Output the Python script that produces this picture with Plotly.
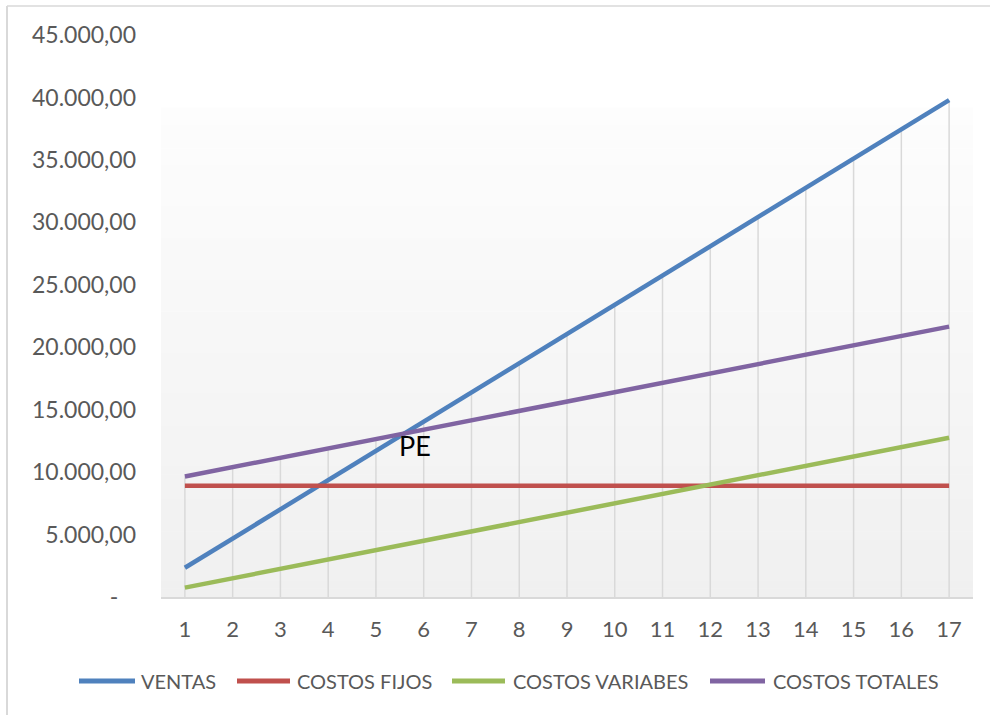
import plotly.graph_objects as go

# Units sold (category axis)
unidades = list(range(1, 18))
etiquetas_x = [str(u) for u in unidades]

# Series values
ventas = [2340, 4680, 7020, 9360, 11700, 14040, 16380, 18720, 21060,
          23400, 25740, 28080, 30420, 32760, 35100, 37440, 39780]
costos_fijos = [8900] * 17
costos_variables = [750, 1500, 2250, 3000, 3750, 4500, 5250, 6000, 6750,
                    7500, 8250, 9000, 9750, 10500, 11250, 12000, 12750]
costos_totales = [9650, 10400, 11150, 11900, 12650, 13400, 14150, 14900, 15650,
                  16400, 17150, 17900, 18650, 19400, 20150, 20900, 21650]

nombres = ["VENTAS", "COSTOS FIJOS", "COSTOS VARIABES", "COSTOS TOTALES"]
colores = ["#4f81bd", "#c0504d", "#9bbb59", "#8064a2"]
series = [ventas, costos_fijos, costos_variables, costos_totales]

# Y axis ticks
y_vals = [0, 5000, 10000, 15000, 20000, 25000, 30000, 35000, 40000, 45000]
y_text = ["-\u00a0\u00a0\u00a0", "5.000,00", "10.000,00", "15.000,00", "20.000,00",
          "25.000,00", "30.000,00", "35.000,00", "40.000,00", "45.000,00"]

W, H = 990, 715
ML, MR, MT, MB = 161, 17, 35, 118
PW, PH = W - ML - MR, H - MT - MB

FONT = "Lato, 'Open Sans', sans-serif"
TXT = "#595959"


def px_x(px):
    return (px - ML) / PW


def px_y(py):
    return (H - MB - py) / PH


fig = go.Figure()

# Drop lines from the axis up to the highest series at each category
dx, dy = [], []
for i, u in enumerate(unidades):
    top = max(s[i] for s in series)
    dx += [u, u, None]
    dy += [0, top, None]
fig.add_trace(go.Scatter(x=dx, y=dy, mode="lines", showlegend=False,
                         hoverinfo="skip",
                         line=dict(color="#d9d9d9", width=1.5)))

for nombre, color, valores in zip(nombres, colores, series):
    fig.add_trace(go.Scatter(x=unidades, y=valores, name=nombre, mode="lines",
                             showlegend=False,
                             line=dict(color=color, width=4.5)))

shapes = []

# Vertical gradient fill of the plot area
n_strips = 60
fill_top = px_y(108)
c_top, c_bot = 0xfd, 0xf0
for k in range(n_strips):
    y0 = fill_top * k / n_strips
    y1 = fill_top * (k + 1) / n_strips
    t = (k + 0.5) / n_strips
    g = round(c_bot + (c_top - c_bot) * t)
    col = f"rgb({g},{g},{g})"
    shapes.append(dict(type="rect", xref="paper", yref="paper",
                       x0=0, x1=1, y0=y0, y1=y1 + 0.001,
                       fillcolor=col, line=dict(width=0), layer="below"))

# Chart frame (top and left edges)
shapes.append(dict(type="line", xref="paper", yref="paper",
                   x0=px_x(7), x1=px_x(W + 5), y0=px_y(6), y1=px_y(6),
                   line=dict(color="#d9d9d9", width=1.5)))
shapes.append(dict(type="line", xref="paper", yref="paper",
                   x0=px_x(7), x1=px_x(7), y0=px_y(6), y1=px_y(H + 5),
                   line=dict(color="#d9d9d9", width=2)))

annotations = []

# Legend drawn below the axis
leg_y = px_y(681)
leg_items = [(79, 135, 139), (237, 290, 295), (452, 505, 511), (710, 765, 771)]
for (l0, l1, tx), nombre, color in zip(leg_items, nombres, colores):
    shapes.append(dict(type="line", xref="paper", yref="paper",
                       x0=px_x(l0), x1=px_x(l1), y0=leg_y, y1=leg_y,
                       line=dict(color=color, width=5)))
    annotations.append(dict(xref="paper", yref="paper", x=px_x(tx), y=leg_y,
                            text=nombre, showarrow=False, xanchor="left",
                            yanchor="middle",
                            font=dict(family=FONT, size=20, color=TXT)))

# Break-even point: where sales meet total costs
for i in range(len(unidades) - 1):
    d0 = ventas[i] - costos_totales[i]
    d1 = ventas[i + 1] - costos_totales[i + 1]
    if d0 < 0 <= d1:
        f = -d0 / (d1 - d0)
        x_pe = unidades[i] + f
        y_pe = ventas[i] + f * (ventas[i + 1] - ventas[i])
        break
annotations.append(dict(x=x_pe, y=y_pe, xref="x", yref="y", text="PE",
                        showarrow=False, xanchor="left", yanchor="top",
                        xshift=-7, yshift=6,
                        font=dict(family=FONT, size=27, color="#000000")))

fig.update_layout(
    width=W, height=H,
    margin=dict(l=ML, r=MR, t=MT, b=MB),
    paper_bgcolor="white",
    plot_bgcolor="rgba(0,0,0,0)",
    shapes=shapes,
    annotations=annotations,
    font=dict(family=FONT, color=TXT),
    xaxis=dict(range=[0.5, 17.5], tickvals=unidades, ticktext=etiquetas_x,
               showgrid=False, zeroline=False, showline=True,
               linecolor="#d9d9d9", linewidth=1.5, ticks="",
               ticklabelstandoff=12,
               tickfont=dict(family=FONT, size=22, color=TXT)),
    yaxis=dict(range=[0, 45000], tickvals=y_vals, ticktext=y_text,
               showgrid=False, zeroline=False, showline=False, ticks="",
               ticklabelstandoff=24,
               tickfont=dict(family=FONT, size=23, color=TXT)),
    hovermode=False,
)

fig.write_html("out.html")
